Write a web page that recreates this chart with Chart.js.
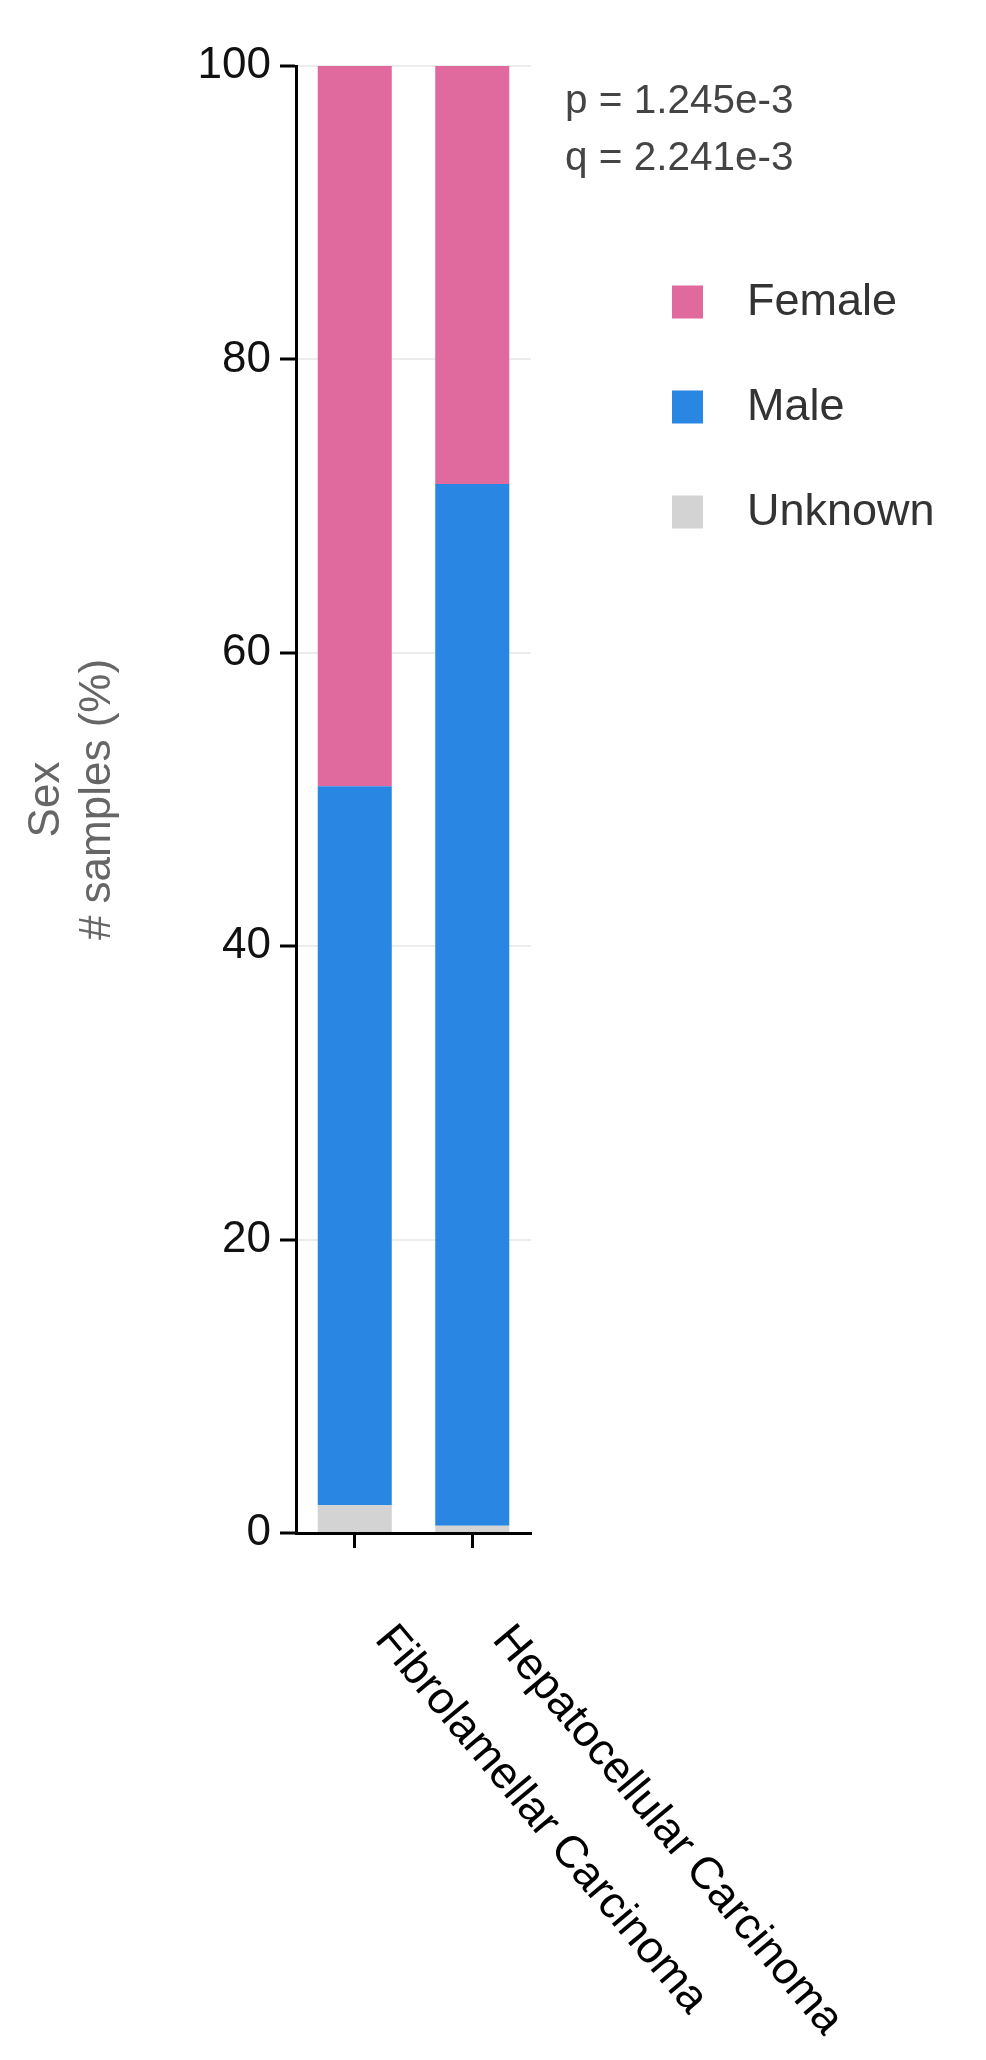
<!DOCTYPE html>
<html>
<head>
<meta charset="utf-8">
<script src="https://cdn.jsdelivr.net/npm/chart.js@4.4.1/dist/chart.umd.min.js"></script>
<style>
  html, body { margin: 0; padding: 0; background: #fff; }
  #wrap { width: 986px; height: 2060px; position: relative; }
</style>
</head>
<body>
<div id="wrap"><canvas id="c"></canvas></div>
<script>
// ---- data ----
const categories = ['Fibrolamellar Carcinoma', 'Hepatocellular Carcinoma'];
const unknownPct = [1.9, 0.5];
const malePct = [49.0, 71.0];
const femalePct = [49.1, 28.5];
const yTickValues = [0, 20, 40, 60, 80, 100];
const yTitleLines = ['Sex', '# samples (%)'];
const statLines = ['p = 1.245e-3', 'q = 2.241e-3'];
const legendOrder = ['Female', 'Male', 'Unknown'];

// ---- styles ----
const FONT = '"Liberation Sans", Arial, Helvetica, sans-serif';
const COLORS = { Female: '#E0699E', Male: '#2986E2', Unknown: '#D3D3D3' };

const overlay = {
  id: 'overlay',
  afterDraw(chart) {
    const ctx = chart.ctx;
    const area = chart.chartArea;
    const xs = chart.scales.x;
    ctx.save();
    // rotated category labels (clockwise, starting at tick)
    ctx.font = '45px ' + FONT;
    ctx.fillStyle = '#000';
    ctx.textAlign = 'left';
    ctx.textBaseline = 'alphabetic';
    categories.forEach((lab, i) => {
      const x = xs.getPixelForValue(i) + 19;
      const y = area.bottom + 107;
      ctx.save();
      ctx.translate(x, y);
      ctx.rotate(50 * Math.PI / 180);
      ctx.fillText(lab, 0, 0);
      ctx.restore();
    });
    // statistics text
    ctx.font = '40.5px ' + FONT;
    ctx.fillStyle = '#444';
    statLines.forEach((t, i) => {
      ctx.fillText(t, area.right + 34, area.top + 47 + i * 57);
    });
    // legend
    ctx.font = '45px ' + FONT;
    ctx.textBaseline = 'middle';
    legendOrder.forEach((name, i) => {
      const cy = area.top + 236 + i * 105;
      const bx = area.right + 141;
      ctx.fillStyle = COLORS[name];
      ctx.fillRect(bx, cy - 16.5, 31, 33);
      ctx.fillStyle = '#333';
      ctx.fillText(name, bx + 75, cy + 1);
    });
    ctx.restore();
  }
};

new Chart(document.getElementById('c'), {
  type: 'bar',
  data: {
    labels: categories,
    datasets: [
      { label: 'Unknown', data: unknownPct, backgroundColor: COLORS.Unknown },
      { label: 'Male', data: malePct, backgroundColor: COLORS.Male },
      { label: 'Female', data: femalePct, backgroundColor: COLORS.Female }
    ]
  },
  options: {
    responsive: true,
    maintainAspectRatio: false,
    animation: false,
    devicePixelRatio: 1,
    layout: { padding: { top: 66, right: 455, bottom: 0, left: 0 } },
    plugins: { legend: { display: false }, tooltip: { enabled: false } },
    datasets: { bar: { barPercentage: 0.63, categoryPercentage: 1.0 } },
    scales: {
      x: {
        stacked: true,
        offset: true,
        afterFit(s) { s.height = 527; },
        grid: { offset: false, drawOnChartArea: false, drawTicks: true, tickLength: 15, tickColor: '#000', tickWidth: 3 },
        border: { display: true, color: '#000', width: 3 },
        ticks: { display: false }
      },
      y: {
        stacked: true,
        min: 0,
        max: 100,
        afterFit(s) { s.width = 296; },
        afterBuildTicks(s) { s.ticks = yTickValues.map(v => ({ value: v })); },
        grid: { color: '#ececec', lineWidth: 2, tickColor: '#000', tickWidth: 3, tickLength: 16 },
        border: { display: true, color: '#000', width: 3 },
        ticks: { font: { family: FONT, size: 44 }, color: '#111', padding: 9 },
        title: {
          display: true,
          text: yTitleLines,
          color: '#666',
          font: { family: FONT, size: 44, lineHeight: 1.16 },
          padding: { top: 21, bottom: 20 }
        }
      }
    }
  },
  plugins: [overlay]
});
</script>
</body>
</html>
